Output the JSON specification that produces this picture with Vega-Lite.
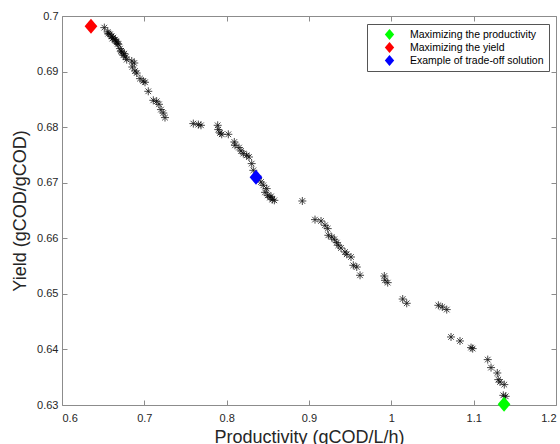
{
  "$schema": "https://vega.github.io/schema/vega-lite/v6.json",
  "width": 494,
  "height": 389,
  "autosize": {"type": "none"},
  "padding": {"left": 62, "top": 16, "right": 4, "bottom": 39},
  "background": "white",
  "datasets": {
    "pareto": [
      {"x": 0.6514, "y": 0.69791}, {"x": 0.6555, "y": 0.69712}, {"x": 0.6562, "y": 0.69683}, {"x": 0.6583, "y": 0.69671},
      {"x": 0.6604, "y": 0.69635}, {"x": 0.6611, "y": 0.69593}, {"x": 0.6623, "y": 0.69611}, {"x": 0.6644, "y": 0.69575},
      {"x": 0.6652, "y": 0.6955}, {"x": 0.6664, "y": 0.69532}, {"x": 0.6677, "y": 0.69503}, {"x": 0.6684, "y": 0.69491},
      {"x": 0.6704, "y": 0.69413}, {"x": 0.6717, "y": 0.6937}, {"x": 0.6725, "y": 0.69352}, {"x": 0.6745, "y": 0.69293},
      {"x": 0.6757, "y": 0.69323}, {"x": 0.6774, "y": 0.69262}, {"x": 0.6786, "y": 0.69215}, {"x": 0.6847, "y": 0.6919},
      {"x": 0.6878, "y": 0.69154}, {"x": 0.6854, "y": 0.69082}, {"x": 0.6887, "y": 0.6901}, {"x": 0.6907, "y": 0.68974},
      {"x": 0.6947, "y": 0.68873}, {"x": 0.6987, "y": 0.6883}, {"x": 0.7008, "y": 0.68807}, {"x": 0.7048, "y": 0.68645},
      {"x": 0.7109, "y": 0.68483}, {"x": 0.715, "y": 0.68465}, {"x": 0.7178, "y": 0.68411}, {"x": 0.7202, "y": 0.68316},
      {"x": 0.723, "y": 0.68254}, {"x": 0.7251, "y": 0.68172},
      {"x": 0.7595, "y": 0.68064}, {"x": 0.7656, "y": 0.68046}, {"x": 0.7688, "y": 0.68033}, {"x": 0.7891, "y": 0.68033},
      {"x": 0.7898, "y": 0.67956}, {"x": 0.7919, "y": 0.67895}, {"x": 0.794, "y": 0.67871}, {"x": 0.802, "y": 0.67871},
      {"x": 0.8093, "y": 0.67733}, {"x": 0.8101, "y": 0.67673}, {"x": 0.815, "y": 0.67632}, {"x": 0.8174, "y": 0.67571},
      {"x": 0.8202, "y": 0.67524}, {"x": 0.8243, "y": 0.67493}, {"x": 0.8271, "y": 0.67463}, {"x": 0.8304, "y": 0.67344},
      {"x": 0.8324, "y": 0.67223}, {"x": 0.8381, "y": 0.67079}, {"x": 0.8417, "y": 0.67013}, {"x": 0.8445, "y": 0.66953},
      {"x": 0.8466, "y": 0.66827}, {"x": 0.8486, "y": 0.66894}, {"x": 0.8498, "y": 0.66773}, {"x": 0.8526, "y": 0.66732},
      {"x": 0.8539, "y": 0.66755}, {"x": 0.8554, "y": 0.66696}, {"x": 0.8579, "y": 0.66683},
      {"x": 0.8919, "y": 0.66671}, {"x": 0.9073, "y": 0.66336}, {"x": 0.9146, "y": 0.66311}, {"x": 0.9194, "y": 0.66234},
      {"x": 0.9227, "y": 0.66174}, {"x": 0.9235, "y": 0.66054}, {"x": 0.9276, "y": 0.66023}, {"x": 0.9307, "y": 0.65982},
      {"x": 0.9337, "y": 0.65922}, {"x": 0.9356, "y": 0.65874}, {"x": 0.9389, "y": 0.65825}, {"x": 0.9437, "y": 0.65753},
      {"x": 0.9458, "y": 0.65712}, {"x": 0.951, "y": 0.65663}, {"x": 0.9538, "y": 0.65514}, {"x": 0.958, "y": 0.65483},
      {"x": 0.962, "y": 0.65334}, {"x": 0.9915, "y": 0.65321}, {"x": 0.9923, "y": 0.65244}, {"x": 0.9956, "y": 0.65202},
      {"x": 1.0138, "y": 0.64907}, {"x": 1.0187, "y": 0.6483},
      {"x": 1.0571, "y": 0.64794}, {"x": 1.0619, "y": 0.64763}, {"x": 1.0673, "y": 0.64717}, {"x": 1.0725, "y": 0.64224},
      {"x": 1.0834, "y": 0.64152}, {"x": 1.0968, "y": 0.64033}, {"x": 1.0988, "y": 0.64015}, {"x": 1.1171, "y": 0.63817},
      {"x": 1.1211, "y": 0.63673}, {"x": 1.1287, "y": 0.63576}, {"x": 1.1299, "y": 0.63457}, {"x": 1.132, "y": 0.63414},
      {"x": 1.1372, "y": 0.63367}, {"x": 1.136, "y": 0.63174}, {"x": 1.1389, "y": 0.63156}
    ],
    "special": [
      {"x": 1.1369, "y": 0.63013, "label": "Maximizing the productivity"},
      {"x": 0.6352, "y": 0.69815, "label": "Maximizing the yield"},
      {"x": 0.8356, "y": 0.671, "label": "Example of trade-off solution"}
    ]
  },
  "layer": [
    {
      "data": {"name": "pareto"},
      "mark": {
        "type": "point",
        "shape": "M-1,0L1,0M0,-1L0,1M-0.7,-0.7L0.7,0.7M-0.7,0.7L0.7,-0.7",
        "filled": false,
        "stroke": "black",
        "strokeWidth": 0.8,
        "opacity": 0.9,
        "size": 64,
        "clip": false
      },
      "encoding": {
        "x": {
          "field": "x", "type": "quantitative",
          "scale": {"domain": [0.6, 1.2], "nice": false, "zero": false},
          "axis": {"orient": "bottom", "values": [0.6, 0.7, 0.8, 0.9, 1.0, 1.1, 1.2], "format": ".1~f", "title": "Productivity (gCOD/L/h)", "labelPadding": 12, "titlePadding": 5}
        },
        "y": {
          "field": "y", "type": "quantitative",
          "scale": {"domain": [0.63, 0.7], "nice": false, "zero": false},
          "axis": {"orient": "left", "values": [0.63, 0.64, 0.65, 0.66, 0.67, 0.68, 0.69, 0.7], "format": ".2~f", "title": "Yield (gCOD/gCOD)", "titlePadding": 7}
        }
      }
    },
    {
      "data": {"name": "special"},
      "mark": {
        "type": "point",
        "shape": "M0,-1L0.85,0L0,1L-0.85,0Z",
        "filled": true,
        "opacity": 1,
        "size": 225,
        "clip": false
      },
      "encoding": {
        "x": {
          "field": "x", "type": "quantitative",
          "scale": {"domain": [0.6, 1.2], "nice": false, "zero": false},
          "axis": {"orient": "top", "values": [0.6, 0.7, 0.8, 0.9, 1.0, 1.1, 1.2], "labels": false, "title": null}
        },
        "y": {
          "field": "y", "type": "quantitative",
          "scale": {"domain": [0.63, 0.7], "nice": false, "zero": false},
          "axis": {"orient": "right", "values": [0.63, 0.64, 0.65, 0.66, 0.67, 0.68, 0.69, 0.7], "labels": false, "title": null}
        },
        "color": {
          "field": "label", "type": "nominal",
          "scale": {
            "domain": ["Maximizing the productivity", "Maximizing the yield", "Example of trade-off solution"],
            "range": ["#00ff00", "#ff0000", "#0000ff"]
          },
          "legend": {
            "title": null,
            "orient": "none",
            "legendX": 305,
            "legendY": 8,
            "symbolType": "M0,-1L0.85,0L0,1L-0.85,0Z",
            "symbolSize": 121,
            "symbolOffset": 12,
            "labelOffset": 15,
            "labelFontSize": 10.5,
            "labelFont": "Liberation Sans",
            "labelColor": "black",
            "rowPadding": 2,
            "padding": 5,
            "strokeColor": "#555555",
            "fillColor": "white",
            "symbolStrokeWidth": 0
          }
        }
      }
    }
  ],
  "resolve": {"axis": {"x": "independent", "y": "independent"}},
  "config": {
    "view": {"stroke": null},
    "axis": {
      "grid": false,
      "domainColor": "#8c8c8c",
      "tickColor": "#8c8c8c",
      "tickSize": -5,
      "labelPadding": 9,
      "labelColor": "#262626",
      "titleColor": "#262626",
      "labelFont": "Liberation Sans",
      "titleFont": "Liberation Sans",
      "labelFontSize": 11,
      "titleFontSize": 18,
      "titleFontWeight": "normal"
    }
  }
}
